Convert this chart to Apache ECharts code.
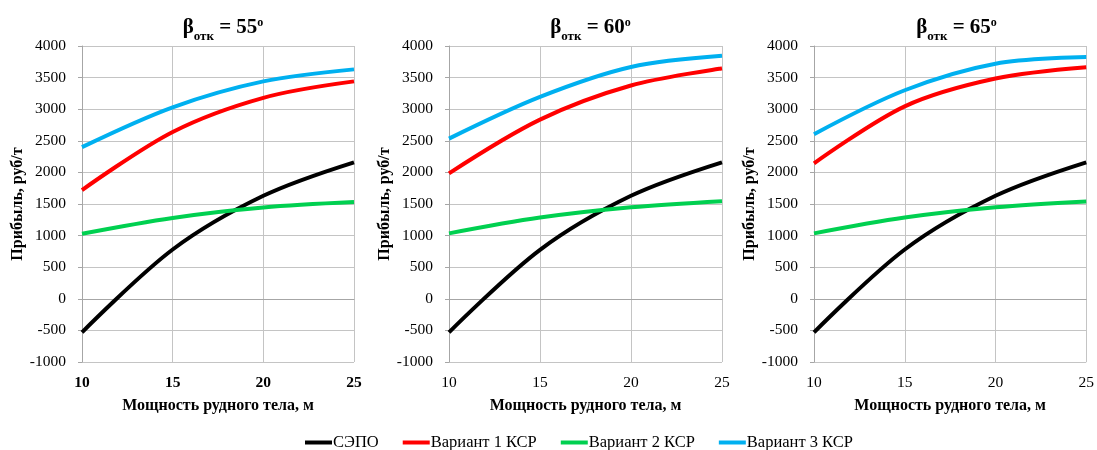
<!DOCTYPE html>
<html>
<head>
<meta charset="utf-8">
<script src="https://cdn.jsdelivr.net/npm/echarts@6/dist/echarts.min.js"></script>
<style>
html,body{margin:0;padding:0;background:#fff;}
#c{width:1097px;height:450px;}
</style>
</head>
<body>
<div id="c"></div>
<script>
// ---- data ----
const xValues = [10, 15, 20, 25];
const angles = ['55', '60', '65'];
const seriesNames = ['СЭПО', 'Вариант 1 КСР', 'Вариант 2 КСР', 'Вариант 3 КСР'];
const yTicks = { min: -1000, max: 4000, step: 500 };
const xTicks = { min: 10, max: 25, step: 5 };

// beta = 55
const sepo55 = [-530, 780, 1630, 2160];
const v1_55 = [1720, 2640, 3180, 3440];
const v2_55 = [1030, 1280, 1445, 1530];
const v3_55 = [2400, 3030, 3440, 3630];
// beta = 60
const sepo60 = [-530, 775, 1630, 2160];
const v1_60 = [1985, 2835, 3375, 3645];
const v2_60 = [1035, 1285, 1448, 1545];
const v3_60 = [2535, 3195, 3668, 3845];
// beta = 65
const sepo65 = [-530, 780, 1630, 2160];
const v1_65 = [2143, 3045, 3485, 3665];
const v2_65 = [1035, 1285, 1448, 1540];
const v3_65 = [2605, 3300, 3720, 3825];

const colors = ['#000000', '#ff0000', '#00d050', '#00b0f0'];
const panels = [
  [sepo55, v1_55, v2_55, v3_55],
  [sepo60, v1_60, v2_60, v3_60],
  [sepo65, v1_65, v2_65, v3_65]
];

// ---- layout ----
const grids = [
  { left: 82, top: 46, width: 272, height: 316 },
  { left: 449, top: 46, width: 273, height: 316 },
  { left: 814, top: 46, width: 275, height: 316 }
];
const serif = '"Liberation Serif", "Times New Roman", serif';
const gridColor = '#c4c4c4';
const axisColor = '#a6a6a6';

const option = {
  animation: false,
  backgroundColor: '#ffffff',
  title: grids.map((g, i) => ({
    text: '{b|β}{s|отк}{b| = ' + angles[i] + '}{p|o}',
    left: g.left + g.width / 2,
    top: 8,
    textAlign: 'center',
    textStyle: {
      rich: {
        b: { fontFamily: serif, fontSize: 21, fontWeight: 'bold', color: '#000', lineHeight: 30, verticalAlign: 'middle' },
        s: { fontFamily: serif, fontSize: 13, fontWeight: 'bold', color: '#000', lineHeight: 30, verticalAlign: 'bottom' },
        p: { fontFamily: serif, fontSize: 12, fontWeight: 'bold', color: '#000', verticalAlign: 'top', padding: [4, 0, 0, 0] }
      }
    }
  })),
  legend: {
    left: 305,
    top: 434,
    padding: 0,
    icon: 'rect',
    itemWidth: 27,
    itemHeight: 4,
    itemGap: 24,
    data: seriesNames,
    textStyle: { fontFamily: serif, fontSize: 16.5, color: '#000', padding: [0, 0, 0, -4] }
  },
  grid: grids,
  xAxis: grids.map((g, i) => ({
    type: 'value',
    gridIndex: i,
    min: xTicks.min,
    max: xTicks.max,
    interval: xTicks.step,
    name: 'Мощность рудного тела, м',
    nameLocation: 'middle',
    nameGap: 36,
    nameTextStyle: { fontFamily: serif, fontSize: 16, fontWeight: 'bold', color: '#000' },
    axisLine: { show: true, lineStyle: { color: axisColor, width: 1 } },
    axisTick: { show: false },
    axisLabel: { fontFamily: serif, fontSize: 15.5, color: '#000', fontWeight: i === 0 ? 'bold' : 'normal', margin: 13 },
    splitLine: { show: true, lineStyle: { color: gridColor, width: 1 } }
  })),
  yAxis: grids.map((g, i) => ({
    type: 'value',
    gridIndex: i,
    min: yTicks.min,
    max: yTicks.max,
    interval: yTicks.step,
    name: 'Прибыль, руб/т',
    nameLocation: 'middle',
    nameGap: 48,
    nameTextStyle: { fontFamily: serif, fontSize: 16, fontWeight: 'bold', color: '#000' },
    axisLine: { show: true, lineStyle: { color: axisColor, width: 1 } },
    axisTick: { show: true, length: 4, lineStyle: { color: axisColor } },
    axisLabel: { fontFamily: serif, fontSize: 15.5, color: '#000', margin: 16, formatter: v => String(v) },
    splitLine: { show: true, lineStyle: { color: gridColor, width: 1 } }
  })),
  series: []
};

panels.forEach((sets, gi) => {
  sets.forEach((vals, si) => {
    option.series.push({
      type: 'line',
      name: seriesNames[si],
      xAxisIndex: gi,
      yAxisIndex: gi,
      data: xValues.map((x, k) => [x, vals[k]]),
      smooth: 0.33,
      showSymbol: false,
      symbol: 'none',
      color: colors[si],
      lineStyle: { color: colors[si], width: 4 },
      z: 2 + si
    });
  });
});

const chart = echarts.init(document.getElementById('c'), null, { renderer: 'canvas' });
chart.setOption(option);
</script>
</body>
</html>
